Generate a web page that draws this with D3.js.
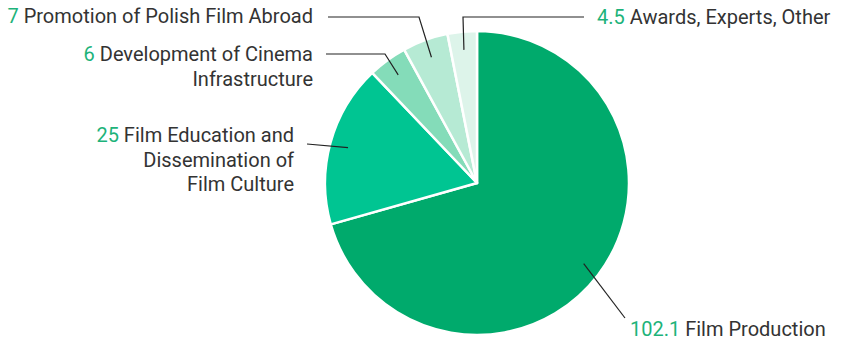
<!DOCTYPE html>
<html>
<head>
<meta charset="utf-8">
<script src="https://cdn.jsdelivr.net/npm/d3@7"></script>
<style>
  html, body { margin: 0; padding: 0; background: #fff; }
  svg { display: block; }
  text { font-family: Roboto, "Noto Sans", sans-serif; }
</style>
</head>
<body>
<svg id="chart" width="844" height="342"></svg>
<script>
// Budget allocation (millions), drawn clockwise from 12 o'clock
const categories = [
  "Film Production",
  "Film Education and Dissemination of Film Culture",
  "Development of Cinema Infrastructure",
  "Promotion of Polish Film Abroad",
  "Awards, Experts, Other"
];
const values = [102.1, 25, 6, 7, 4.5];
const valueLabels = ["102.1", "25", "6", "7", "4.5"];
// Wrapped label text lines (first line carries the value)
const labelLines = [
  ["Film Production"],
  ["Film Education and", "Dissemination of", "Film Culture"],
  ["Development of Cinema", "Infrastructure"],
  ["Promotion of Polish Film Abroad"],
  ["Awards, Experts, Other"]
];
const colors = ["#00aa6c", "#00c592", "#84dcb9", "#b6ead4", "#ddf4ea"];

// Label layout: text anchor point, alignment and leader route
const labelLayout = [
  { x: 630, y: 336, anchor: "start", elbow: null, lineEnd: [625, 318] },
  { x: 294, y: 142, anchor: "end", elbow: null, lineEnd: [307, 144] },
  { x: 313, y: 61, anchor: "end", elbow: [385, 54], lineEnd: [326, 54] },
  { x: 313, y: 23, anchor: "end", elbow: [419, 17], lineEnd: [328, 17] },
  { x: 597, y: 24, anchor: "start", elbow: [463, 17], lineEnd: [584, 17] }
];

const cx = 477, cy = 183, radius = 152;
const svg = d3.select("#chart");
const g = svg.append("g").attr("transform", `translate(${cx},${cy})`);

const pie = d3.pie().sort(null).value(d => d)(values);
const arc = d3.arc().innerRadius(0).outerRadius(radius);

g.selectAll("path.slice")
  .data(pie)
  .join("path")
  .attr("class", "slice")
  .attr("d", arc)
  .attr("fill", (d, i) => colors[i])
  .attr("stroke", "#fff")
  .attr("stroke-width", 2.5)
  .attr("stroke-linejoin", "round");

// Leader lines start inside each slice, at its mid angle
const inner = d3.arc().innerRadius(radius * 0.88).outerRadius(radius * 0.88);
pie.forEach((d, i) => {
  const p = inner.centroid(d);
  const start = [cx + p[0], cy + p[1]];
  const L = labelLayout[i];
  const pts = [start];
  if (L.elbow) pts.push(L.elbow);
  pts.push(L.lineEnd);
  svg.append("path")
    .attr("d", d3.line()(pts))
    .attr("fill", "none")
    .attr("stroke", "#222")
    .attr("stroke-width", 1.2);
});

// Labels
labelLayout.forEach((L, i) => {
  const t = svg.append("text")
    .attr("x", L.x)
    .attr("y", L.y)
    .attr("text-anchor", L.anchor)
    .attr("font-size", 20)
    .attr("fill", "#333");
  labelLines[i].forEach((line, j) => {
    const ts = t.append("tspan").attr("x", L.x);
    if (j > 0) ts.attr("dy", 24.5);
    if (j === 0) {
      ts.append("tspan").attr("fill", "#1db37a").text(valueLabels[i] + " ");
      ts.append("tspan").text(line);
    } else {
      ts.text(line);
    }
  });
});
</script>
</body>
</html>
